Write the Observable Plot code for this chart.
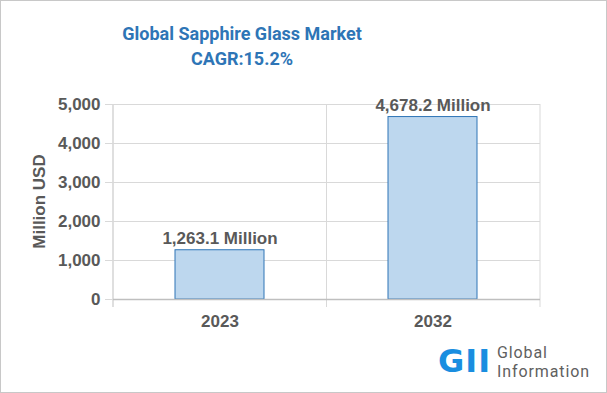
<!DOCTYPE html>
<html>
<head>
<meta charset="utf-8">
<script src="https://cdn.jsdelivr.net/npm/d3@7"></script>
<script src="https://cdn.jsdelivr.net/npm/@observablehq/plot@0.6"></script>
<style>
  html, body { margin: 0; padding: 0; background: #fff; }
  #wrap { position: relative; width: 607px; height: 393px; overflow: hidden; }
  #frame { position: absolute; left: 0; top: 0; width: 605px; height: 391px; border: 1px solid #c8c8c8; pointer-events: none; }
  .title { position: absolute; left: 0; width: 484px; text-align: center;
           font-family: Roboto, "Liberation Sans", sans-serif; font-weight: 700; font-size: 18px;
           line-height: 20px; color: #2e75b6; white-space: nowrap; }
  #gii { position: absolute; left: 438px; top: 343px; font-family: "DejaVu Sans", Arial, sans-serif; font-weight: 700;
         font-size: 32px; line-height: 36px; color: #1a8ee0; letter-spacing: 1px; }
  .lt { position: absolute; left: 497px; font-family: Roboto, "Liberation Sans", sans-serif; font-size: 16px;
        line-height: 19px; color: #606060; white-space: nowrap; letter-spacing: 0.9px; }
  svg text { font-family: "Liberation Sans", Arial, sans-serif; }
</style>
</head>
<body>
<div id="wrap">
  <div id="chart"></div>
  <div class="title" style="top:24px">Global Sapphire Glass Market</div>
  <div class="title" style="top:49px">CAGR:15.2%</div>
  <div id="gii">GII</div>
  <div class="lt" style="top:343px">Global</div>
  <div class="lt" style="top:362px">Information</div>
  <div id="frame"></div>
</div>
<script>
const years = ["2023", "2032"];
const values = [1263.1, 4678.2];
const labels = ["1,263.1 Million", "4,678.2 Million"];
const yTicks = [0, 1000, 2000, 3000, 4000, 5000];
const yLabel = "Million USD";

const data = years.map((y, i) => ({year: y, value: values[i], label: labels[i]}));

const plot = Plot.plot({
  width: 607,
  height: 393,
  marginLeft: 113,
  marginRight: 67,
  marginTop: 104,
  marginBottom: 94,
  style: {color: "#595959", fontSize: "17px", fontWeight: "bold", fontFamily: "'Liberation Sans', Arial, sans-serif", background: "transparent"},
  x: {domain: years, paddingInner: 0.58, paddingOuter: 0.29, axis: "bottom", tickSize: 0, tickPadding: 15, label: null},
  y: {domain: [0, 5000], ticks: yTicks, tickFormat: d3.format(","), tickSize: 8, tickPadding: 5, label: null},
  marks: [
    Plot.ruleY(yTicks.filter(d => d > 0), {y: d => d, stroke: "#d9d9d9", strokeWidth: 1}),
    Plot.barY(data, {x: "year", y: "value", fill: "#bdd7ee", stroke: "#2e75b6", strokeWidth: 1}),
    Plot.ruleY([0], {stroke: "#bfbfbf", strokeWidth: 1.5}),
    Plot.text(data, {x: "year", y: "value", text: "label", lineAnchor: "bottom", dy: -6, fill: "#595959", fontSize: 17, fontWeight: "bold"})
  ]
});
document.getElementById("chart").appendChild(plot);

const svg = d3.select(plot);
svg.selectAll('g[aria-label="y-axis tick"]').attr("stroke", "#d9d9d9");
svg.selectAll('g[aria-label="y-axis tick"] path').attr("stroke", "#d9d9d9");

// vertical category boundary lines, derived from the x band scale
const xs = plot.scale("x");
const ys = plot.scale("y");
const band = d3.scaleBand(xs.domain, xs.range)
  .paddingInner(xs.paddingInner ?? 0.58)
  .paddingOuter(xs.paddingOuter ?? 0.29)
  .align(xs.align ?? 0.5);
const step = band.step();
const bounds = years.map(y => band(y) + band.bandwidth() / 2 - step / 2);
bounds.push(band(years[years.length - 1]) + band.bandwidth() / 2 + step / 2);
const yTop = d3.min(ys.range), yBot = d3.max(ys.range);
const g = svg.insert("g", ":first-child");
g.selectAll("line").data(bounds).join("line")
  .attr("x1", d => d).attr("x2", d => d)
  .attr("y1", yTop).attr("y2", yBot + 8)
  .attr("stroke", (d, i) => i === 0 ? "#bfbfbf" : "#d9d9d9")
  .attr("stroke-width", 1);
svg.append("text")
  .attr("transform", `translate(45,${(yTop + yBot) / 2}) rotate(-90)`)
  .attr("text-anchor", "middle")
  .attr("fill", "#595959")
  .attr("font-size", 17)
  .attr("font-weight", "bold")
  .text(yLabel);
</script>
</body>
</html>
